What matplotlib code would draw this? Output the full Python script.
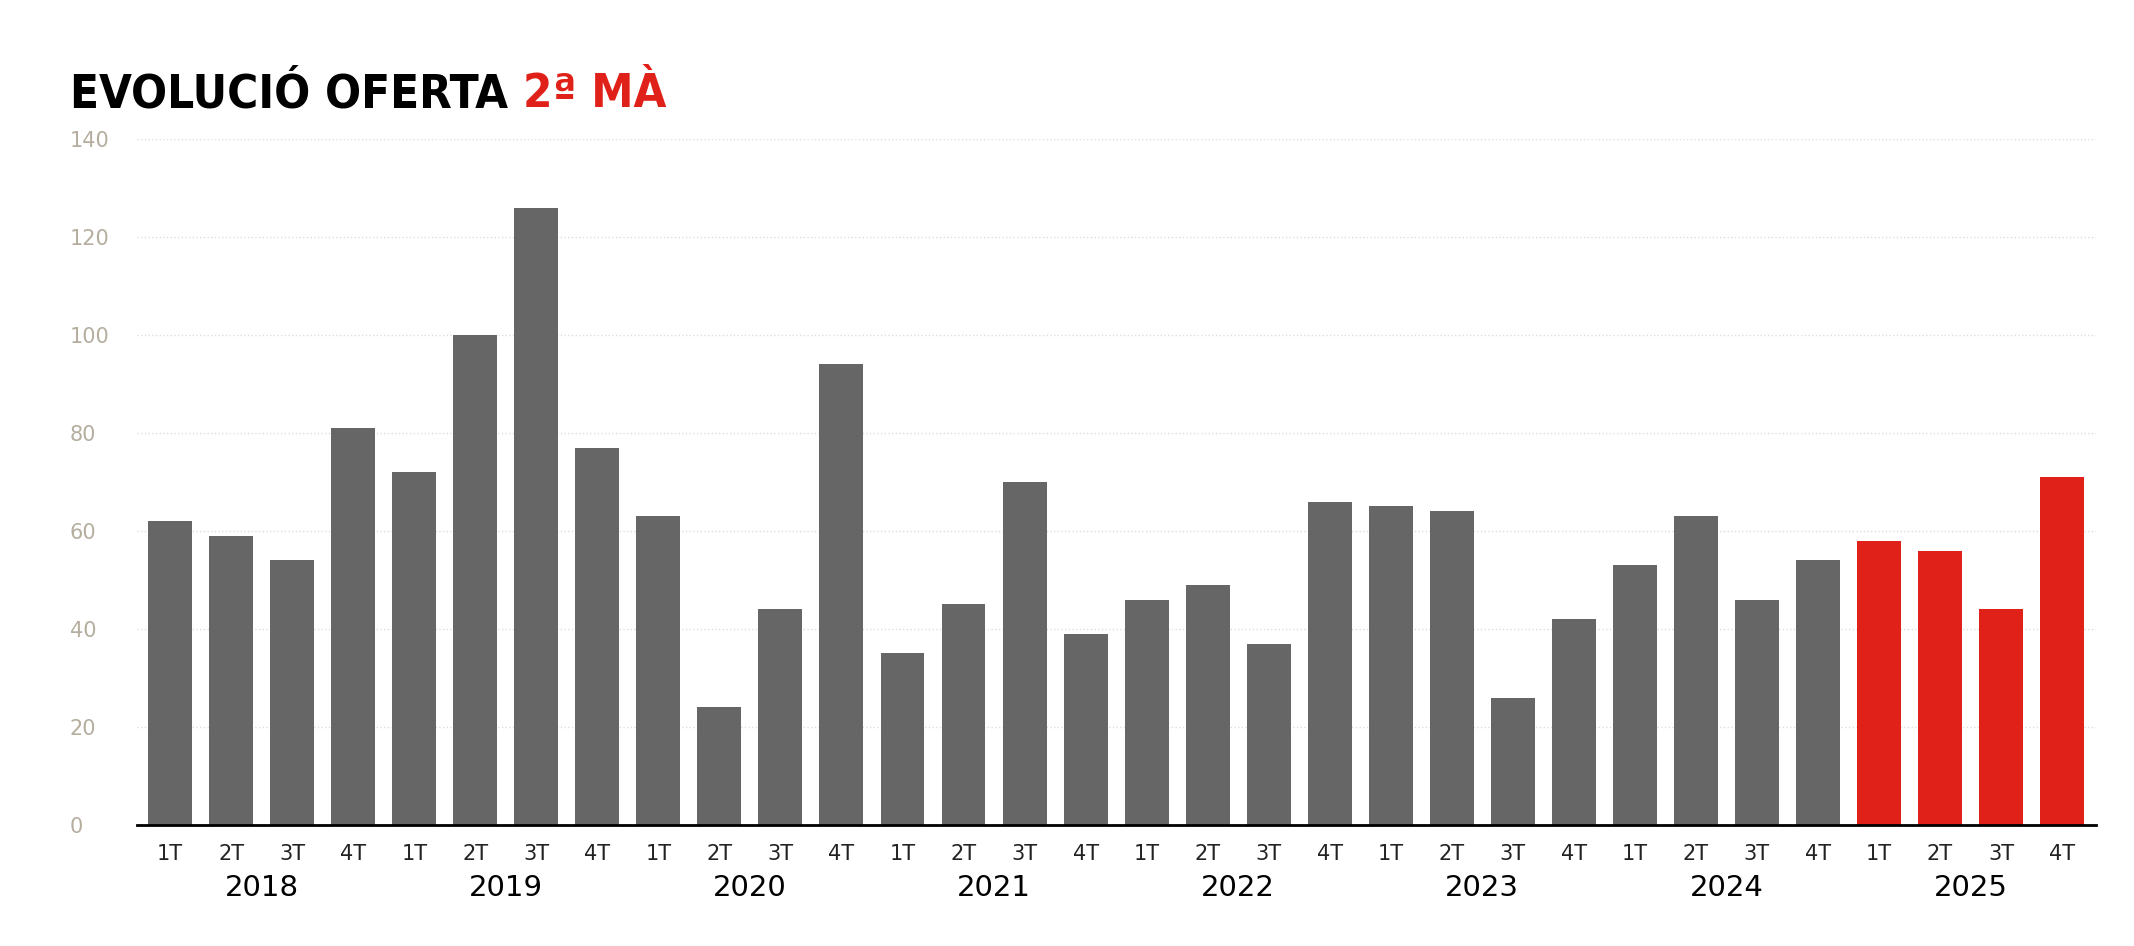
import matplotlib
matplotlib.use('Agg')
import matplotlib.pyplot as plt
import matplotlib.transforms as mtransforms
import numpy as np

years = ['2018', '2019', '2020', '2021', '2022', '2023', '2024', '2025']
quarters = ['1T', '2T', '3T', '4T']
values = [62, 59, 54, 81,
          72, 100, 126, 77,
          63, 24, 44, 94,
          35, 45, 70, 39,
          46, 49, 37, 66,
          65, 64, 26, 42,
          53, 63, 46, 54,
          58, 56, 44, 71]
highlight_year = '2025'

GREY = '#666666'
RED = '#e0211a'

fig = plt.figure(figsize=(21.34, 9.46), dpi=100)
ax = fig.add_axes([0.064, 0.128, 0.918, 0.725])

x = np.arange(len(values))
colors = [RED if years[i // 4] == highlight_year else GREY for i in x]
ax.bar(x, values, width=0.72, color=colors, zorder=2)

ax.set_xlim(-0.55, len(values) - 0.45)
ax.set_ylim(0, 140)
ax.set_yticks(range(0, 141, 20))
ax.tick_params(axis='y', length=0, labelsize=15, labelcolor='#b5ae9f', pad=0)
for lbl in ax.get_yticklabels():
    lbl.set_horizontalalignment('left')
    lbl.set_x(-0.034)
ax.grid(axis='y', color='#dddddd', linestyle=':', linewidth=1, zorder=0)

ax.set_xticks(x)
ax.set_xticklabels([quarters[i % 4] for i in x], fontsize=15, color='#222222')
ax.tick_params(axis='x', length=0, pad=14)

for s in ['top', 'right', 'left']:
    ax.spines[s].set_visible(False)
ax.spines['bottom'].set_color('black')
ax.spines['bottom'].set_linewidth(2)
ax.spines['bottom'].set_zorder(3)

trans = mtransforms.blended_transform_factory(ax.transData, ax.transAxes)
for k, yr in enumerate(years):
    ax.text(4 * k + 1.5, -0.072, yr, transform=trans, ha='center', va='top', fontsize=21)

title_kw = dict(fontsize=34, fontweight='heavy', fontstretch='condensed',
                family=['DejaVu Sans'], va='center', ha='left')
t = fig.text(0.033, 0.90, 'EVOLUCIÓ OFERTA ', **title_kw)
fig.canvas.draw()
bb = t.get_window_extent().transformed(fig.transFigure.inverted())
fig.text(bb.x1, 0.90, '2ª MÀ', color=RED, **title_kw)

fig.savefig('out.png', dpi=100, facecolor='white')
